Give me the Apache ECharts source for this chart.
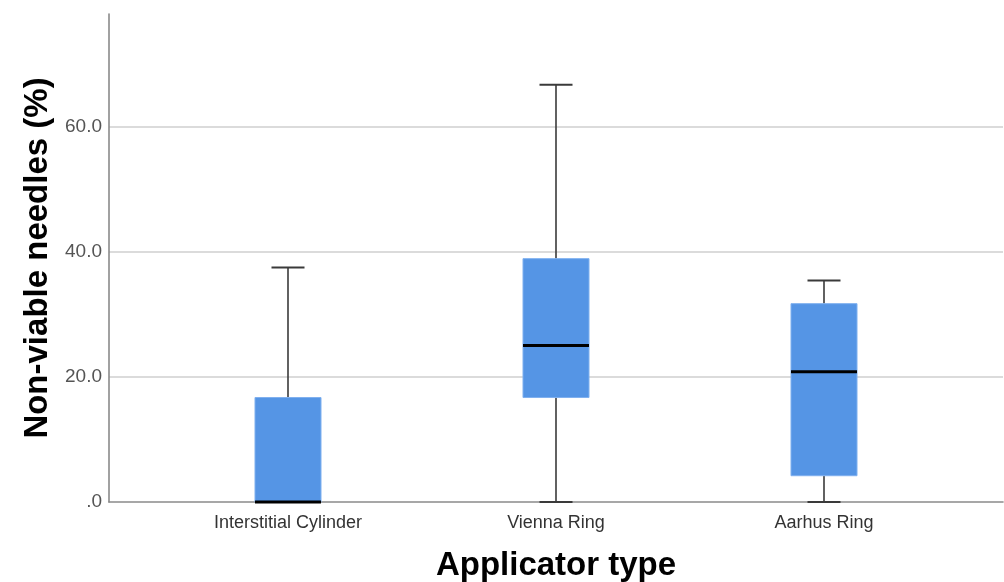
<!DOCTYPE html>
<html>
<head>
<meta charset="utf-8">
<script src="https://cdn.jsdelivr.net/npm/echarts@6/dist/echarts.min.js"></script>
<style>
html,body{margin:0;padding:0;background:#fff;}
#chart{width:1004px;height:582px;}
</style>
</head>
<body>
<div id="chart"></div>
<script>
const categories = ['Interstitial Cylinder', 'Vienna Ring', 'Aarhus Ring'];
const minVals = [0, 0, 0];
const q1Vals = [0, 16.7, 4.2];
const medianVals = [0, 25.0, 20.8];
const q3Vals = [16.7, 38.9, 31.7];
const maxVals = [37.5, 66.7, 35.4];
const yTicks = [0, 20, 40, 60];

const boxData = categories.map((c, i) => [i, minVals[i], q1Vals[i], medianVals[i], q3Vals[i], maxVals[i]]);

const chart = echarts.init(document.getElementById('chart'), null, {renderer: 'canvas'});

function renderBox(params, api) {
  const idx = api.value(0);
  const band = api.size([1, 0])[0];
  const bw = band * 66 / 268;
  const cw = bw / 2;
  const pMin = api.coord([idx, api.value(1)]);
  const pQ1 = api.coord([idx, api.value(2)]);
  const pMed = api.coord([idx, api.value(3)]);
  const pQ3 = api.coord([idx, api.value(4)]);
  const pMax = api.coord([idx, api.value(5)]);
  const x = pMed[0];
  const wStyle = {stroke: '#3a3a3a', lineWidth: 1.6};
  return {
    type: 'group',
    children: [
      {type: 'line', shape: {x1: x, y1: pQ3[1], x2: x, y2: pMax[1]}, style: wStyle},
      {type: 'line', shape: {x1: x, y1: pQ1[1], x2: x, y2: pMin[1]}, style: wStyle},
      {type: 'line', shape: {x1: x - cw / 2, y1: pMax[1], x2: x + cw / 2, y2: pMax[1]}, style: {stroke: '#3a3a3a', lineWidth: 2}},
      {type: 'line', shape: {x1: x - cw / 2, y1: pMin[1], x2: x + cw / 2, y2: pMin[1]}, style: {stroke: '#3a3a3a', lineWidth: 2}},
      {type: 'rect', shape: {x: x - bw / 2, y: pQ3[1], width: bw, height: pQ1[1] - pQ3[1]},
        style: {fill: '#5595e5', stroke: '#7fb0ef', lineWidth: 1}},
      {type: 'line', shape: {x1: x - bw / 2, y1: pMed[1], x2: x + bw / 2, y2: pMed[1]}, style: {stroke: '#000', lineWidth: 3}}
    ]
  };
}

const yMax = 78;

chart.setOption({
  animation: false,
  backgroundColor: '#fff',
  grid: [
    {left: 109, right: 1, top: 14, bottom: 80, containLabel: false, outerBoundsMode: 'none'},
    {left: 154, right: 46, top: 14, bottom: 80, containLabel: false, outerBoundsMode: 'none'}
  ],
  xAxis: [
    {
      gridIndex: 0, type: 'value', min: 0, max: 1,
      axisLine: {show: true, lineStyle: {color: '#8a8a8a', width: 1.6}},
      axisTick: {show: false}, axisLabel: {show: false}, splitLine: {show: false}
    },
    {
      gridIndex: 1, type: 'category', data: categories, boundaryGap: true,
      axisLine: {show: false}, axisTick: {show: false}, splitLine: {show: false},
      axisLabel: {color: '#333', fontFamily: 'Liberation Sans, Arial, sans-serif', fontSize: 18, margin: 12},
      name: 'Applicator type', nameLocation: 'middle', nameGap: 47,
      nameTextStyle: {color: '#000', fontWeight: 'bold', fontFamily: 'Liberation Sans, Arial, sans-serif', fontSize: 33}
    }
  ],
  yAxis: [
    {
      gridIndex: 0, type: 'value', min: 0, max: yMax, interval: 20,
      axisLine: {show: true, lineStyle: {color: '#8a8a8a', width: 1.6}},
      axisTick: {show: false},
      axisLabel: {
        color: '#555', fontFamily: 'Liberation Sans, Arial, sans-serif', fontSize: 19, margin: 7,
        showMaxLabel: false,
        formatter: v => (yTicks.indexOf(v) >= 0 ? (v === 0 ? '.0' : v.toFixed(1)) : '')
      },
      splitLine: {show: true, showMaxLine: false, showMinLine: false, lineStyle: {color: '#cfcfcf', width: 1.6}},
      name: 'Non-viable needles (%)', nameLocation: 'middle', nameGap: 52, nameRotate: 90,
      nameTextStyle: {color: '#000', fontWeight: 'bold', fontFamily: 'Liberation Sans, Arial, sans-serif', fontSize: 33}
    },
    {
      gridIndex: 1, type: 'value', min: 0, max: yMax, interval: 20, show: false
    }
  ],
  series: [
    {
      type: 'custom', xAxisIndex: 1, yAxisIndex: 1, clip: false,
      renderItem: renderBox, data: boxData, z: 5
    }
  ]
});
</script>
</body>
</html>
